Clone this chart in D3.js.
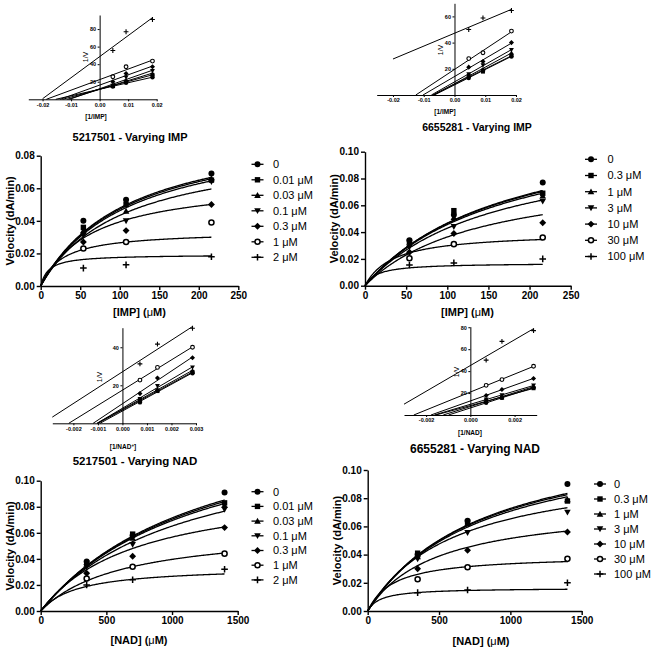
<!DOCTYPE html>
<html><head><meta charset="utf-8">
<script src="https://cdn.jsdelivr.net/npm/d3@7"></script>
<style>
html,body{margin:0;padding:0;background:#fff;}
svg{display:block;font-family:"Liberation Sans",Arial,sans-serif;}
</style></head>
<body><svg id="c" width="661" height="649"></svg>
<script>
// ---------------- DATA ----------------
const impConc = [54, 108, 216];          // [IMP] (µM)
const nadConc = [350, 700, 1400];        // [NAD] (µM)

const labels5217501 = ["0", "0.01 μM", "0.03 μM", "0.1 μM", "0.3 μM", "1 μM", "2 μM"];
const labels6655281 = ["0", "0.3 μM", "1 μM", "3 μM", "10 μM", "30 μM", "100 μM"];

// Velocities (dA/min), one row per inhibitor concentration
const v5217501IMP = [
  [0.040, 0.053, 0.069],
  [0.036, 0.050, 0.065],
  [0.034, 0.046, 0.066],
  [0.031, 0.040, 0.064],
  [0.027, 0.034, 0.050],
  [0.023, 0.027, 0.039],
  [0.011, 0.013, 0.018]
];
const v6655281IMP = [
  [0.034, 0.053, 0.077],
  [0.033, 0.056, 0.069],
  [0.031, 0.051, 0.067],
  [0.029, 0.044, 0.063],
  [0.025, 0.039, 0.047],
  [0.0205, 0.031, 0.036],
  [0.0155, 0.017, 0.020]
];
const v5217501NAD = [
  [0.038, 0.058, 0.091],
  [0.037, 0.059, 0.083],
  [0.036, 0.056, 0.081],
  [0.034, 0.051, 0.078],
  [0.029, 0.042, 0.064],
  [0.025, 0.034, 0.044],
  [0.020, 0.024, 0.032]
];
const v6655281NAD = [
  [0.040, 0.064, 0.090],
  [0.041, 0.063, 0.078],
  [0.0385, 0.062, 0.079],
  [0.037, 0.0556, 0.070],
  [0.030, 0.043, 0.056],
  [0.0225, 0.031, 0.037],
  [0.013, 0.0149, 0.020]
];

// Fitted Michaelis–Menten curves: [Vmax, Km]
const fit5217501IMP = [[0.101,111],[0.100,112],[0.098,112],[0.088,103],[0.0654,66],[0.0337,27],[0.0193,10]];
const fit6655281IMP = [[0.1289,176],[0.127,174],[0.124,172],[0.1107,158],[0.0876,141],[0.0399,34],[0.017,15]];
const fit5217501NAD = [[0.1645,1303],[0.1614,1290],[0.1568,1260],[0.1365,1095],[0.0983,734],[0.0644,626],[0.0342,284]];
const fit6655281NAD = [[0.1318,812],[0.1296,800],[0.1267,790],[0.105,606],[0.076,477],[0.0396,182],[0.0164,89]];

const impTicks = [0, 50, 100, 150, 200, 250];
const nadTicks = [0, 500, 1000, 1500];
const vTicks08 = [0, 0.02, 0.04, 0.06, 0.08];
const vTicks10 = [0, 0.02, 0.04, 0.06, 0.08, 0.10];

const titles = ["5217501 - Varying IMP", "6655281 - Varying IMP", "5217501 - Varying NAD", "6655281 - Varying NAD"];

// ---------------- LAYOUT ----------------
const FONT = '"Liberation Sans",Arial,sans-serif';
const svg = d3.select("#c");

const mains = [
  {conc: impConc, vals: v5217501IMP, fits: fit5217501IMP, labels: labels5217501, xDom:[0,250], xR:[40.7,238.3], yDom:[0,0.08], yR:[286,155.7], xT: impTicks, yT: vTicks08, xName:"[IMP]", xTitle:[139.5,312], leg:{mx:257.5, tx:273, y0:164.3, dy:15.5}},
  {conc: impConc, vals: v6655281IMP, fits: fit6655281IMP, labels: labels6655281, xDom:[0,250], xR:[365,570.7], yDom:[0,0.10], yR:[285.7,151.7], xT: impTicks, yT: vTicks10, xName:"[IMP]", xTitle:[467.5,312], leg:{mx:591, tx:607.5, y0:159.3, dy:16.2}},
  {conc: nadConc, vals: v5217501NAD, fits: fit5217501NAD, labels: labels5217501, xDom:[0,1500], xR:[40.7,237.7], yDom:[0,0.10], yR:[611,480.7], xT: nadTicks, yT: vTicks10, xName:"[NAD]", xTitle:[139,640], leg:{mx:257.5, tx:273, y0:491.7, dy:14.7}},
  {conc: nadConc, vals: v6655281NAD, fits: fit6655281NAD, labels: labels6655281, xDom:[0,1500], xR:[367.7,581.7], yDom:[0,0.10], yR:[611,470], xT: nadTicks, yT: vTicks10, xName:"[NAD]", xTitle:[481,641], leg:{mx:600, tx:614, y0:484, dy:15}}
];

const insets = [
  {src:0, xDom:[-0.025,0.02], xR:[28.3,156.7], yDom:[0,96], yR:[99.3,15], xT:[-0.02,-0.01,0,0.01,0.02], dec:2, yT:[20,40,60,80], lineStart:-0.02, xName:"[1/IMP]", xTitle:[96,117], vPos:[86,57]},
  {src:1, xDom:[-0.0253,0.02], xR:[376.7,516], yDom:[0,70], yR:[95,3.3], xT:[-0.02,-0.01,0,0.01,0.02], dec:2, yT:[20,40,60], lineStart:-0.02, xName:"[1/IMP]", xTitle:[445,112], vPos:[441,50]},
  {src:2, xDom:[-0.00286,0.003], xR:[52.3,196], yDom:[0,50.3], yR:[423.3,327.7], xT:[-0.002,-0.001,0,0.001,0.002,0.003], dec:3, yT:[20,40], lineStart:-0.00286, xName:"[1/NAD", sup:"+", xTitle:[123,446.5], vPos:[100,377]},
  {src:3, xDom:[-0.003,0.003], xR:[404,536.7], yDom:[0,80.5], yR:[415,326.7], xT:[-0.002,0,0.002], dec:3, yT:[20,40,60,80], lineStart:-0.003, xName:"[1/NAD]", xTitle:[470,433], vPos:[457,372]}
];

const titlePos = [[130,137,11],[477,127,10.5],[135,461,11.5],[475,448.5,12]];

// ---------------- MARKERS ----------------
function marker(g, type, cx, cy, r, sw) {
  const t = `translate(${cx},${cy})`;
  if (type === 0) {
    g.append("circle").attr("cx",cx).attr("cy",cy).attr("r",r).attr("fill","#000");
  } else if (type === 1) {
    const s = r*0.9;
    g.append("rect").attr("x",cx-s).attr("y",cy-s).attr("width",2*s).attr("height",2*s).attr("fill","#000");
  } else if (type === 2) {
    const h = r*1.1;
    g.append("path").attr("transform",t).attr("d",`M0,${-h}L${h},${h*0.8}L${-h},${h*0.8}Z`).attr("fill","#000");
  } else if (type === 3) {
    const h = r*1.1;
    g.append("path").attr("transform",t).attr("d",`M0,${h}L${h},${-h*0.8}L${-h},${-h*0.8}Z`).attr("fill","#000");
  } else if (type === 4) {
    const h = r*1.15;
    g.append("path").attr("transform",t).attr("d",`M0,${-h}L${h},0L0,${h}L${-h},0Z`).attr("fill","#000");
  } else if (type === 5) {
    g.append("circle").attr("cx",cx).attr("cy",cy).attr("r",r*0.85).attr("fill","#fff").attr("stroke","#000").attr("stroke-width",sw);
  } else {
    const h = r*1.1;
    g.append("path").attr("transform",t).attr("d",`M${-h},0H${h}M0,${-h}V${h}`).attr("fill","none").attr("stroke","#000").attr("stroke-width",sw);
  }
}

function styleAxis(sel, size, weight, sw) {
  sel.select(".domain").attr("stroke","#000").attr("stroke-width",sw);
  sel.selectAll(".tick line").attr("stroke","#000").attr("stroke-width",sw);
  sel.selectAll(".tick text").attr("fill","#000").attr("font-size",size).attr("font-weight",weight).attr("font-family",FONT);
}

// ---------------- MAIN PANELS ----------------
mains.forEach((p, pi) => {
  const g = svg.append("g");
  const x = d3.scaleLinear().domain(p.xDom).range(p.xR);
  const y = d3.scaleLinear().domain(p.yDom).range(p.yR);

  const ax = g.append("g").attr("transform",`translate(0,${p.yR[0]})`)
    .call(d3.axisBottom(x).tickValues(p.xT).tickSize(4).tickSizeOuter(0).tickPadding(2).tickFormat(d => String(d)));
  styleAxis(ax, 10, "bold", 1.4);
  const ay = g.append("g").attr("transform",`translate(${p.xR[0]},0)`)
    .call(d3.axisLeft(y).tickValues(p.yT).tickSize(4).tickSizeOuter(0).tickPadding(2).tickFormat(d => d.toFixed(2)));
  styleAxis(ay, 10, "bold", 1.4);

  // titles
  g.append("text").attr("transform",`translate(${p.xR[0]-31},${(p.yR[0]+p.yR[1])/2}) rotate(-90)`)
    .attr("text-anchor","middle").attr("dy","0.35em").attr("font-size",11).attr("font-weight","bold").text("Velocity (dA/min)");
  const tx = g.append("text").attr("x",p.xTitle[0]).attr("y",p.xTitle[1]).attr("dy","0.35em")
    .attr("text-anchor","middle").attr("font-size",11).attr("font-weight","bold");
  tx.append("tspan").text(p.xName + " (");
  tx.append("tspan").attr("font-weight","normal").text("μ");
  tx.append("tspan").text("M)");

  // fitted curves
  const maxS = d3.max(p.conc);
  const line = d3.line().x(d => x(d[0])).y(d => y(d[1]));
  p.fits.forEach(f => {
    const pts = d3.range(0, 201).map(k => { const s = maxS * k / 200; return [s, f[0]*s/(f[1]+s)]; });
    g.append("path").attr("d", line(pts)).attr("fill","none").attr("stroke","#000").attr("stroke-width",1.3);
  });

  // points
  p.vals.forEach((row, i) => row.forEach((v, j) => marker(g, i, x(p.conc[j]), y(v), 3, 1.5)));

  // legend
  p.labels.forEach((lab, i) => {
    const yy = p.leg.y0 + i * p.leg.dy;
    g.append("line").attr("x1",p.leg.mx-6).attr("x2",p.leg.mx+6).attr("y1",yy).attr("y2",yy).attr("stroke","#000").attr("stroke-width",1.3);
    marker(g, i, p.leg.mx, yy, 3, 1.5);
    g.append("text").attr("x",p.leg.tx).attr("y",yy).attr("dy","0.35em").attr("font-size",11).text(lab);
  });
});

// ---------------- INSETS (double reciprocal) ----------------
insets.forEach(q => {
  const p = mains[q.src];
  const g = svg.append("g");
  const x = d3.scaleLinear().domain(q.xDom).range(q.xR);
  const y = d3.scaleLinear().domain(q.yDom).range(q.yR);

  const ax = g.append("g").attr("transform",`translate(0,${q.yR[0]})`)
    .call(d3.axisBottom(x).tickValues(q.xT).tickSize(2).tickSizeOuter(0).tickPadding(1.5).tickFormat(d => (Math.abs(d) < 1e-12 ? 0 : d).toFixed(q.dec)));
  styleAxis(ax, 5.5, "bold", 1);
  const ay = g.append("g").attr("transform",`translate(${x(0)},0)`)
    .call(d3.axisLeft(y).tickValues(q.yT).tickSize(2).tickSizeOuter(0).tickPadding(1.5).tickFormat(d => String(d)));
  styleAxis(ay, 5.5, "bold", 1);

  const tx = g.append("text").attr("x",q.xTitle[0]).attr("y",q.xTitle[1]).attr("dy","0.35em")
    .attr("text-anchor","middle").attr("font-size",6.5).attr("font-weight","bold").text(q.xName);
  if (q.sup) {
    tx.append("tspan").attr("font-size",4.5).attr("dy","-0.35em").text(q.sup);
    tx.append("tspan").attr("dy","0.35em").text("]");
  }
  g.append("text").attr("transform",`translate(${q.vPos[0]},${q.vPos[1]}) rotate(-90)`)
    .attr("text-anchor","middle").attr("dy","0.35em").attr("font-size",7).text("1/V");

  const lastX = 1 / d3.min(p.conc);
  p.vals.forEach((row, i) => {
    const pts = row.map((v, j) => [1 / p.conc[j], 1 / v]);
    // least-squares line through the reciprocal points
    const mx = d3.mean(pts, d => d[0]), my = d3.mean(pts, d => d[1]);
    const b = d3.sum(pts, d => (d[0]-mx)*(d[1]-my)) / d3.sum(pts, d => (d[0]-mx)*(d[0]-mx));
    const a = my - b * mx;
    let x0 = q.lineStart;
    if (a + b * x0 < 0) x0 = -a / b;
    g.append("line").attr("x1",x(x0)).attr("y1",y(a+b*x0)).attr("x2",x(lastX)).attr("y2",y(a+b*lastX))
      .attr("stroke","#000").attr("stroke-width",1);
    pts.forEach(d => marker(g, i, x(d[0]), y(d[1]), 2.2, 1.1));
  });
});

// ---------------- PANEL TITLES ----------------
titles.forEach((t, i) => {
  svg.append("text").attr("x",titlePos[i][0]).attr("y",titlePos[i][1]).attr("dy","0.35em")
    .attr("text-anchor","middle").attr("font-size",titlePos[i][2]).attr("font-weight","bold").text(t);
});
</script></body></html>
